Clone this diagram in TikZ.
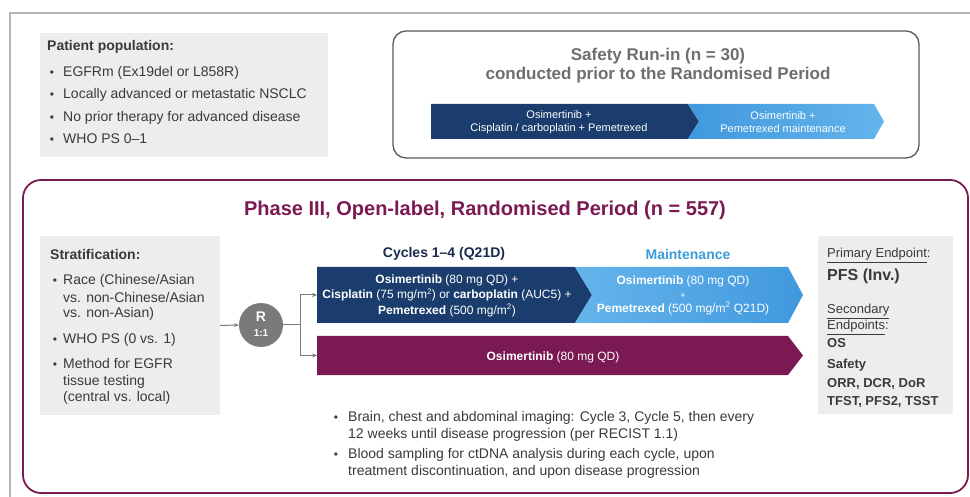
\documentclass[tikz,border=0pt]{standalone}
\usepackage{fontspec}
\setmainfont{Liberation Sans}
\usetikzlibrary{arrows.meta}

\definecolor{navy}{HTML}{1B3D6D}
\definecolor{sky}{HTML}{4098DD}
\definecolor{skylight}{HTML}{64B5EB}
\definecolor{plum}{HTML}{7B1A52}
\definecolor{boxgrey}{HTML}{EDEDED}
\definecolor{txtgrey}{HTML}{3A3A3A}
\definecolor{titlegrey}{HTML}{6E6E6E}
\definecolor{rgrey}{HTML}{7A7A7A}
\definecolor{framegrey}{HTML}{B4B4B4}
\definecolor{cyclenavy}{HTML}{172B4D}
\definecolor{mainttext}{HTML}{3C9CD8}

\begin{document}
\begin{tikzpicture}[x=1pt, y=-1pt,
    greybox/.style={fill=boxgrey, inner sep=0},
    bul/.style={anchor=base, font=\fontsize{12}{12}\selectfont, text=txtgrey, inner sep=0},
    txt/.style={anchor=base west, font=\fontsize{14}{16}\selectfont, text=txtgrey, inner sep=0},
    ep/.style={anchor=base west, font=\fontsize{13}{15}\selectfont, text=txtgrey, inner sep=0},
    bartxt/.style={text=white, align=center, inner sep=0},
    link/.style={draw=rgrey, line width=1pt, -{Stealth[length=5pt,width=4pt]}}]

    \useasboundingbox (0,0) rectangle (970,497);

    % Outer frame of the slide
    \draw[framegrey, line width=1.5] (10,497) -- (10,13) -- (970,13);

    % Patient population
    \node[greybox, minimum width=288, minimum height=124] (pop) at (184,95) {};
    \node[txt, font=\fontsize{14}{16}\selectfont\bfseries] (poptitle) at (47,51) {Patient population:};
    \node[bul] (popb1) at (52,77) {•};
    \node[txt] (pop1) at (63,77) {EGFRm (Ex19del or L858R)};
    \node[bul] (popb2) at (52,99) {•};
    \node[txt] (pop2) at (63,99) {Locally advanced or metastatic NSCLC};
    \node[bul] (popb3) at (52,122) {•};
    \node[txt] (pop3) at (63,122) {No prior therapy for advanced disease};
    \node[bul] (popb4) at (52,144) {•};
    \node[txt] (pop4) at (63,144) {WHO PS 0--1};

    % Safety run-in
    \draw[titlegrey!80!black, line width=1.3, rounded corners=13] (393,31) rectangle (919,158);
    \node[font=\fontsize{17}{19}\selectfont\bfseries, text=titlegrey, align=center] (runtitle) at (658,65.5)
        {Safety Run-in (n = 30)\\conducted prior to the Randomised Period};
    \fill[navy] (431,104) -- (688,104) -- (699,121.5) -- (688,139) -- (431,139) -- cycle;
    \shade[left color=sky, right color=skylight] (688,104) -- (874,104) -- (884,121.5) -- (874,139) -- (688,139) -- (699,121.5) -- cycle;
    \node[bartxt, font=\fontsize{11}{12.5}\selectfont] (runchemo) at (559,122) {Osimertinib +\\Cisplatin / carboplatin + Pemetrexed};
    \node[bartxt, font=\fontsize{11}{12.5}\selectfont] (runmaint) at (783,122) {Osimertinib +\\Pemetrexed maintenance};

    % Randomised period
    \draw[plum, line width=1.8, rounded corners=18] (23,180) rectangle (968,493);
    \node[font=\fontsize{20}{22}\selectfont\bfseries, text=plum] (phasetitle) at (485,210)
        {Phase III, Open-label, Randomised Period (n = 557)};

    % Stratification
    \node[greybox, minimum width=180, minimum height=179] (strat) at (130,325.5) {};
    \node[txt, font=\fontsize{14}{16}\selectfont\bfseries] (strattitle) at (50,260) {Stratification:};
    \node[bul] (stratb1) at (55,285) {•};
    \node[txt] (strat1a) at (63,285) {Race (Chinese/Asian};
    \node[txt] (strat1b) at (63,302) {vs. non-Chinese/Asian};
    \node[txt] (strat1c) at (63,317) {vs. non-Asian)};
    \node[bul] (stratb2) at (55,344) {•};
    \node[txt] (strat2) at (63,344) {WHO PS (0 vs. 1)};
    \node[bul] (stratb3) at (55,368) {•};
    \node[txt] (strat3a) at (63,368) {Method for EGFR};
    \node[txt] (strat3b) at (63,385) {tissue testing};
    \node[txt] (strat3c) at (63,401) {(central vs. local)};

    % Randomisation
    \node[circle, fill=rgrey, minimum size=44, inner sep=0] (R) at (261,325) {};
    \node[text=white, font=\fontsize{14}{14}\selectfont\bfseries] (Rletter) at (261,317) {R};
    \node[text=white, font=\fontsize{10}{10}\selectfont\bfseries] (Rratio) at (261,333) {1:1};
    \coordinate (split) at (300,325);
    \coordinate (armA) at (317,295);
    \coordinate (armB) at (317,355.5);

    \draw[link] (strat.east) -- (R.west);
    \draw[draw=rgrey, line width=1pt] (R.east) -- (split);
    \draw[link] (split) |- (armA);
    \draw[link] (split) |- (armB);

    % Treatment arms
    \node[font=\fontsize{14}{16}\selectfont\bfseries, text=cyclenavy] (cycles) at (444,254) {Cycles 1--4 (Q21D)};
    \node[font=\fontsize{14}{16}\selectfont\bfseries, text=mainttext] (maint) at (688,254) {Maintenance};

    \fill[navy] (317,267) -- (575,267) -- (592,295) -- (575,323) -- (317,323) -- cycle;
    \shade[left color=skylight, right color=sky] (575,267) -- (788,267) -- (803,295) -- (788,323) -- (575,323) -- (592,295) -- cycle;
    \fill[plum] (317,336) -- (788,336) -- (803,355.5) -- (788,375) -- (317,375) -- cycle;

    \node[bartxt, font=\fontsize{12}{15.5}\selectfont] (chemo) at (447,295.5)
        {\textbf{Osimertinib} (80 mg QD) +\\
         \textbf{Cisplatin} (75 mg/m\textsuperscript{2}) or \textbf{carboplatin} (AUC5) +\\
         \textbf{Pemetrexed} (500 mg/m\textsuperscript{2})};
    \node[bartxt, font=\fontsize{12}{14}\selectfont] (osipem) at (683,295)
        {\textbf{Osimertinib} (80 mg QD)\\
         {\fontsize{9}{10}\selectfont +}\\
         \textbf{Pemetrexed} (500 mg/m\textsuperscript{2} Q21D)};
    \node[bartxt, font=\fontsize{12}{14}\selectfont] (osimono) at (553,357) {\textbf{Osimertinib} (80 mg QD)};

    % Endpoints
    \node[greybox, minimum width=135, minimum height=178] (endp) at (885.5,325) {};
    \node[ep] (prim) at (827,258) {\underline{Primary Endpoint}:};
    \node[ep, font=\fontsize{16}{18}\selectfont\bfseries] (pfs) at (827,281) {PFS (Inv.)};
    \node[ep] (seca) at (827,314) {\underline{Secondary}};
    \node[ep] (secb) at (827,330) {\underline{Endpoints}:};
    \node[ep, font=\fontsize{13}{15}\selectfont\bfseries] (os) at (827,348) {OS};
    \node[ep, font=\fontsize{13}{15}\selectfont\bfseries] (safety) at (827,368) {Safety};
    \node[ep, font=\fontsize{13}{15}\selectfont\bfseries] (orr) at (827,387) {ORR, DCR, DoR};
    \node[ep, font=\fontsize{13}{15}\selectfont\bfseries] (tfst) at (827,405) {TFST, PFS2, TSST};

    % Assessments
    \node[bul] (assb1) at (336,421) {•};
    \node[txt] (ass1a) at (348,421) {Brain, chest and abdominal imaging: Cycle 3, Cycle 5, then every};
    \node[txt] (ass1b) at (348,438) {12 weeks until disease progression (per RECIST 1.1)};
    \node[bul] (assb2) at (336,458) {•};
    \node[txt] (ass2a) at (348,458) {Blood sampling for ctDNA analysis during each cycle, upon};
    \node[txt] (ass2b) at (348,475) {treatment discontinuation, and upon disease progression};
\end{tikzpicture}
\end{document}
